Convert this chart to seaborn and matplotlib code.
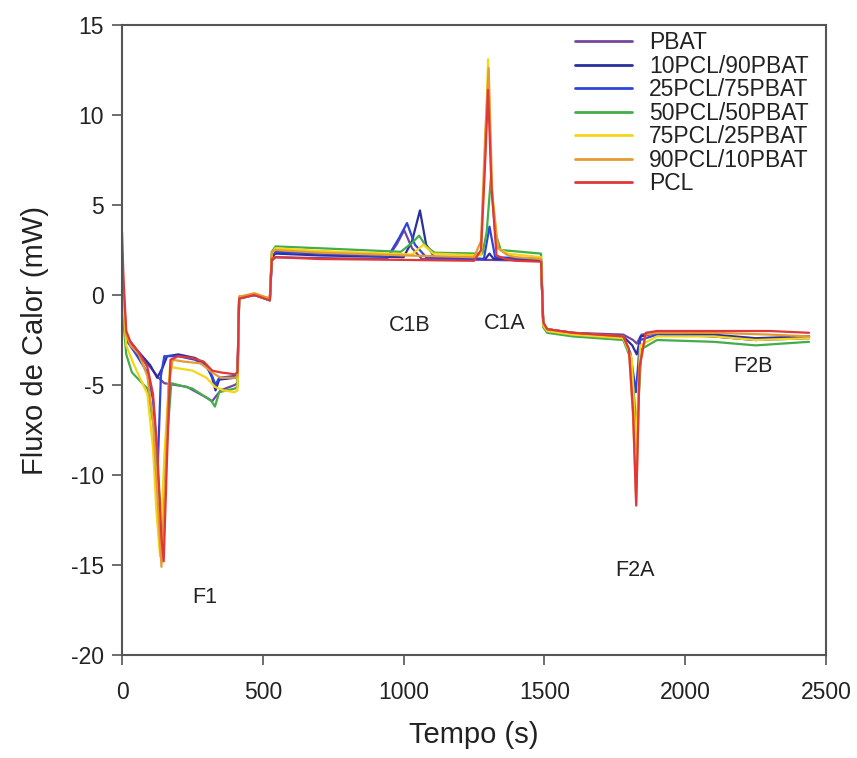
import matplotlib
matplotlib.use("Agg")
import matplotlib.pyplot as plt
import seaborn as sns
import pandas as pd

sns.set_style("ticks")
plt.rcParams["font.family"] = ["Liberation Sans", "DejaVu Sans"]
plt.rcParams["axes.unicode_minus"] = False

series_names = ["PBAT", "10PCL/90PBAT", "25PCL/75PBAT", "50PCL/50PBAT",
                "75PCL/25PBAT", "90PCL/10PBAT", "PCL"]
series_colors = ["#74479f", "#2b2f9e", "#2f45d8", "#43ad4a",
                 "#f5d617", "#e59a34", "#e0383a"]

t_pbat = [0, 5, 15, 50, 100, 130, 150, 230, 300, 320, 335, 350, 400, 410, 416, 470, 525, 532, 545, 700,
          940, 975, 1002, 1030, 1065, 1300, 1488, 1496, 1510, 1600, 1780, 1815, 1828, 1845, 1900, 2100, 2250, 2440]
y_pbat = [0.3, -1.5, -2.4, -3.2, -4.0, -4.6, -4.9, -5.1, -5.7, -5.9, -5.6, -5.3, -5.0, -4.9, -0.2, 0.0, -0.3, 1.9, 2.1, 2.05,
          2.0, 2.8, 3.6, 2.6, 2.0, 1.95, 1.9, -1.6, -1.9, -2.1, -2.2, -2.5, -2.7, -2.2, -2.1, -2.3, -2.5, -2.3]

t_10pcl = [0, 5, 15, 50, 100, 125, 145, 160, 200, 260, 300, 320, 332, 345, 400, 410, 416, 470, 525, 532,
           545, 700, 1000, 1030, 1058, 1080, 1110, 1290, 1305, 1320, 1488, 1496, 1510, 1600, 1780, 1812, 1828,
           1842, 1900, 2100, 2250, 2440]
y_10pcl = [0.8, -1.2, -2.3, -3.0, -3.9, -4.6, -4.0, -3.4, -3.3, -3.5, -3.9, -4.6, -5.3, -4.7, -4.6, -4.5, -0.1, 0.0, -0.2, 2.1,
           2.3, 2.2, 2.1, 3.0, 4.7, 2.8, 2.1, 2.0, 2.3, 2.0, 1.95, -1.7, -1.9, -2.1, -2.3, -2.8, -3.3,
           -2.3, -2.1, -2.2, -2.4, -2.3]

t_25pcl = [0, 5, 15, 50, 90, 110, 127, 138, 150, 200, 260, 300, 320, 332, 345, 400, 410, 416, 470, 525,
           532, 545, 700, 945, 985, 1012, 1040, 1080, 1285, 1305, 1325, 1488, 1496, 1510, 1600, 1780, 1805,
           1825, 1840, 1900, 2100, 2250, 2440]
y_25pcl = [0.5, -1.4, -2.5, -3.3, -4.3, -5.8, -9.5, -4.5, -3.4, -3.4, -3.6, -4.0, -4.5, -5.0, -4.6, -4.5, -4.4, -0.1, 0.0, -0.2,
           2.2, 2.4, 2.3, 2.15, 3.2, 4.0, 2.8, 2.1, 2.0, 3.8, 2.1, 2.0, -1.7, -2.0, -2.2, -2.4, -3.2,
           -5.4, -2.5, -2.2, -2.3, -2.5, -2.4]

t_50pcl = [0, 5, 15, 35, 90, 115, 132, 145, 160, 175, 250, 300, 318, 330, 345, 400, 410, 416, 470, 525,
           532, 545, 700, 990, 1030, 1055, 1080, 1110, 1280, 1295, 1310, 1325, 1345, 1488, 1496, 1510, 1600,
           1780, 1808, 1828, 1845, 1900, 2100, 2250, 2440]
y_50pcl = [1.0, -1.5, -3.3, -4.3, -5.2, -7.5, -11.0, -13.0, -8.0, -4.9, -5.2, -5.7, -5.9, -6.2, -5.4, -5.2, -5.1, -0.2, 0.0, -0.3,
           2.4, 2.7, 2.6, 2.4, 2.9, 3.3, 2.7, 2.35, 2.3, 3.5, 6.5, 3.5, 2.5, 2.3, -1.8, -2.1, -2.3,
           -2.5, -3.6, -7.5, -3.0, -2.5, -2.6, -2.8, -2.6]

t_75pcl = [0, 5, 15, 40, 90, 110, 122, 135, 150, 170, 250, 300, 330, 360, 400, 410, 416, 470, 525, 532,
           545, 700, 1030, 1070, 1105, 1275, 1290, 1300, 1312, 1335, 1370, 1488, 1496, 1510, 1600, 1780, 1810,
           1825, 1840, 1900, 2100, 2250, 2440]
y_75pcl = [1.8, -0.5, -2.8, -3.8, -5.5, -8.5, -12.0, -14.5, -9.0, -4.0, -4.2, -4.6, -5.1, -5.3, -5.4, -5.3, -0.1, 0.05, -0.2, 2.3,
           2.6, 2.45, 2.25, 2.8, 2.3, 2.2, 8.0, 13.1, 6.0, 2.6, 2.3, 2.1, -1.7, -2.0, -2.2, -2.4, -3.5,
           -8.6, -2.8, -2.3, -2.3, -2.5, -2.4]

t_90pcl = [0, 5, 15, 30, 60, 90, 110, 125, 140, 152, 165, 180, 220, 280, 320, 350, 400, 410, 416, 470,
           525, 532, 545, 700, 1000, 1250, 1275, 1290, 1302, 1315, 1335, 1370, 1400, 1488, 1496, 1510, 1600,
           1780, 1800, 1815, 1826, 1838, 1860, 1900, 2100, 2300, 2440]
y_90pcl = [2.5, 0.5, -2.2, -2.8, -3.3, -4.5, -7.0, -11.0, -15.1, -11.0, -5.0, -3.6, -3.7, -3.8, -4.3, -4.6, -4.6, -4.5, -0.1, 0.1,
           -0.2, 2.4, 2.5, 2.35, 2.2, 2.1, 3.0, 9.0, 12.6, 5.5, 2.6, 2.2, 2.1, 2.0, -1.6, -1.9, -2.1,
           -2.3, -3.0, -6.8, -11.5, -4.0, -2.2, -2.1, -2.1, -2.2, -2.3]

t_pcl = [0, 5, 15, 30, 60, 90, 110, 125, 140, 148, 160, 172, 200, 250, 290, 320, 350, 400, 410, 416,
         470, 525, 532, 545, 700, 1000, 1250, 1275, 1290, 1300, 1312, 1330, 1360, 1400, 1488, 1496, 1510,
         1600, 1780, 1800, 1815, 1826, 1838, 1860, 1900, 2100, 2300, 2440]
y_pcl = [3.5, 1.0, -2.0, -2.6, -3.2, -4.0, -5.5, -8.5, -13.5, -14.8, -9.0, -3.6, -3.4, -3.5, -3.7, -4.2, -4.3, -4.4, -4.3, -0.2,
         0.0, -0.3, 2.0, 2.1, 2.0, 1.95, 1.9, 2.5, 7.5, 11.4, 6.0, 2.2, 2.0, 1.9, 1.85, -1.5, -1.9,
         -2.1, -2.3, -3.0, -6.5, -11.7, -4.0, -2.1, -2.0, -2.0, -2.0, -2.1]

x_ticks = [0, 500, 1000, 1500, 2000, 2500]
y_ticks = [-20, -15, -10, -5, 0, 5, 10, 15]

annot_labels = ["F1", "C1B", "C1A", "F2A", "F2B"]
annot_t = [295, 1020, 1360, 1820, 2240]
annot_y = [-16.8, -1.7, -1.6, -15.3, -4.0]

all_t = [t_pbat, t_10pcl, t_25pcl, t_50pcl, t_75pcl, t_90pcl, t_pcl]
all_y = [y_pbat, y_10pcl, y_25pcl, y_50pcl, y_75pcl, y_90pcl, y_pcl]

frames = []
for name, tt, yy in zip(series_names, all_t, all_y):
    frames.append(pd.DataFrame({"Tempo": tt, "Fluxo": yy, "Amostra": name}))
df = pd.concat(frames, ignore_index=True)

fig = plt.figure(figsize=(8.57, 7.58), dpi=100)
ax = fig.add_axes([0.1424, 0.1359, 0.8214, 0.8311])

sns.lineplot(data=df, x="Tempo", y="Fluxo", hue="Amostra", hue_order=series_names,
             palette=dict(zip(series_names, series_colors)), sort=False, estimator=None,
             linewidth=1.6, ax=ax)

ax.set_xlim(0, 2500)
ax.set_ylim(-20, 15)
ax.set_xticks(x_ticks)
ax.set_yticks(y_ticks)
ax.tick_params(axis="both", labelsize=16.5, direction="out", length=7, width=1.2, color="#555555",
               labelcolor="#222222")
ax.tick_params(axis="y", pad=6)
ax.tick_params(axis="x", pad=12)
for s in ax.spines.values():
    s.set_visible(True)
    s.set_color("#555555")
    s.set_linewidth(1.5)

ax.set_xlabel("Tempo (s)", fontsize=21, labelpad=12, color="#222222")
ax.set_ylabel("Fluxo de Calor (mW)", fontsize=21, labelpad=16, color="#222222")

for lab, tx, ty in zip(annot_labels, annot_t, annot_y):
    ax.text(tx, ty, lab, fontsize=15.5, ha="center", va="center", color="#222222")

leg = ax.legend(loc="upper left", bbox_to_anchor=(0.643, 0.99), frameon=False, fontsize=16.5,
                handlelength=2.5, handletextpad=0.75, labelspacing=0.02, borderpad=0, borderaxespad=0)
for line in leg.get_lines():
    line.set_linewidth(2.0)
for txt in leg.get_texts():
    txt.set_color("#222222")

fig.savefig("out.png", dpi=100)
